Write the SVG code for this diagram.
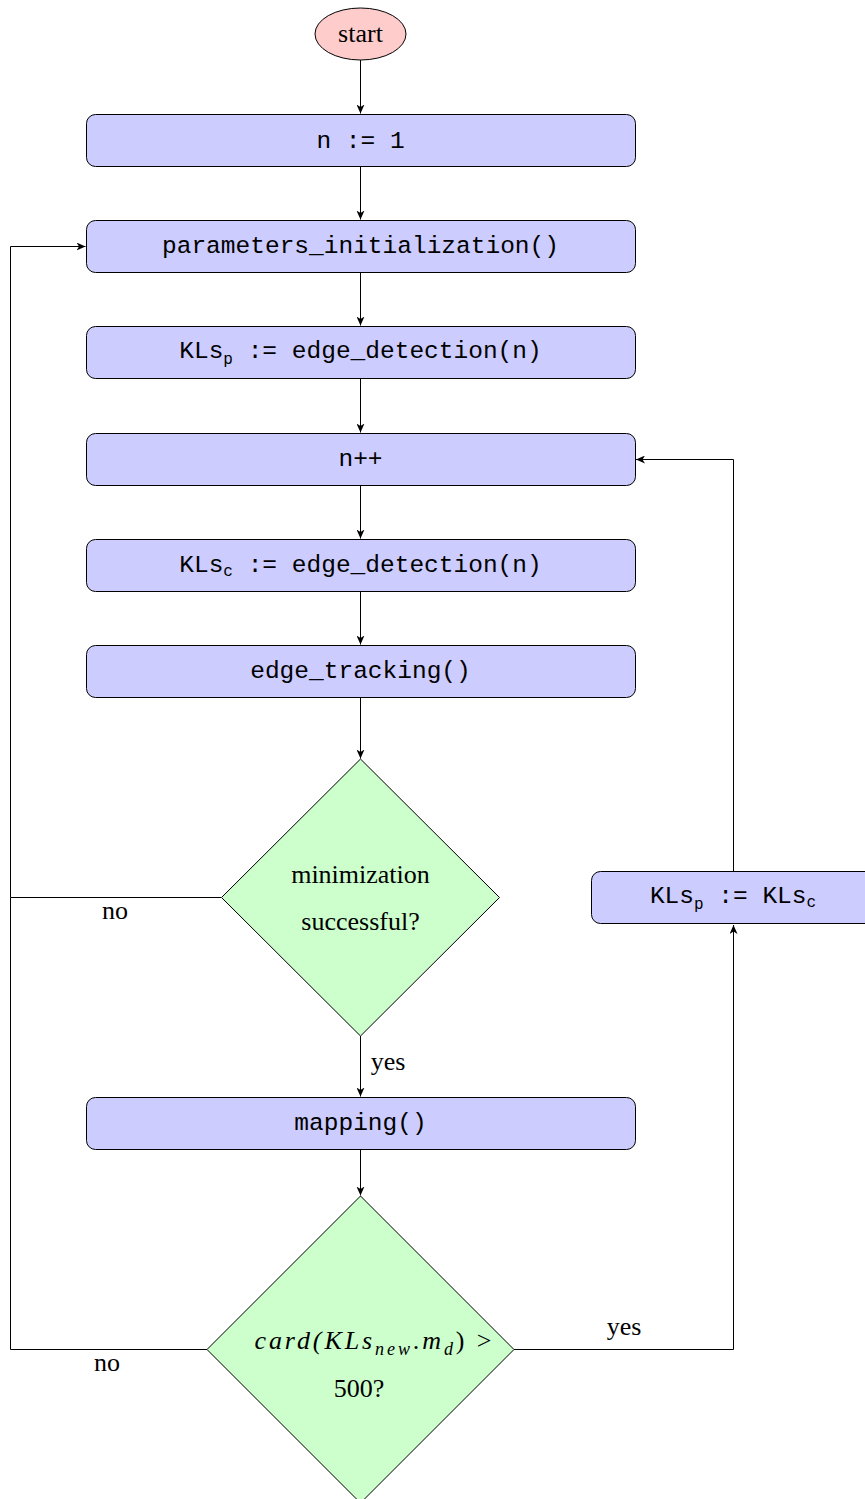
<svg xmlns="http://www.w3.org/2000/svg" width="865" height="1499" viewBox="0 0 865 1499">
<defs>
<marker id="ah" markerWidth="10" markerHeight="8" refX="9" refY="4" orient="auto" markerUnits="userSpaceOnUse">
<path d="M0,0 L9,4 L0,8 L2.5,4 Z" fill="#000"/>
</marker>
<style>
.box{fill:#ccccff;stroke:#000;stroke-width:1}
.dia{fill:#ccffcc;stroke:#000;stroke-width:1}
.ell{fill:#ffcccc;stroke:#000;stroke-width:1}
.mono{font-family:"Liberation Mono","DejaVu Sans Mono",monospace;font-size:24.5px;fill:#000;text-anchor:middle}
.serif{font-family:"Liberation Serif","DejaVu Serif",serif;font-size:26px;fill:#000;text-anchor:middle}
.lbl{font-family:"Liberation Serif","DejaVu Serif",serif;font-size:26px;fill:#000;text-anchor:middle}
.edge{fill:none;stroke:#000;stroke-width:1;marker-end:url(#ah)}
.line{fill:none;stroke:#000;stroke-width:1}
</style>
</defs>
<rect width="865" height="1499" fill="#fff"/>
<g id="connectors">
<line class="edge" x1="360.5" y1="60" x2="360.5" y2="113.5"/>
<line class="edge" x1="360.5" y1="166" x2="360.5" y2="219.5"/>
<line class="edge" x1="360.5" y1="272" x2="360.5" y2="325.5"/>
<line class="edge" x1="360.5" y1="379" x2="360.5" y2="432.5"/>
<line class="edge" x1="360.5" y1="485" x2="360.5" y2="538.5"/>
<line class="edge" x1="360.5" y1="591" x2="360.5" y2="644.5"/>
<line class="edge" x1="360.5" y1="697" x2="360.5" y2="758.5"/>
<line class="edge" x1="360.5" y1="1036" x2="360.5" y2="1096.5"/>
<line class="edge" x1="360.5" y1="1149" x2="360.5" y2="1195.5"/>
<polyline class="edge" points="221,897.5 10.5,897.5 10.5,246.5 85.5,246.5"/>
<polyline class="line" points="207,1349.5 10.5,1349.5 10.5,897.5"/>
<polyline class="edge" points="514,1349.5 733.5,1349.5 733.5,925"/>
<polyline class="edge" points="733.5,871 733.5,459.5 636,459.5"/>
<text class="lbl" x="115" y="919">no</text>
<text class="lbl" x="107" y="1371">no</text>
<text class="lbl" x="388" y="1070">yes</text>
<text class="lbl" x="624" y="1335">yes</text>
</g>
<g id="start">
<ellipse class="ell" cx="360.5" cy="34" rx="45.5" ry="26"/>
<text class="serif" x="360.5" y="42">start</text>
</g>
<g id="init_n">
<rect class="box" x="86.5" y="114.5" width="549" height="52" rx="9"/>
<text class="mono" x="360.5" y="148">n := 1</text>
</g>
<g id="params_init">
<rect class="box" x="86.5" y="220.5" width="549" height="52" rx="9"/>
<text class="mono" x="360.5" y="253">parameters_initialization()</text>
</g>
<g id="edge_detect_p">
<rect class="box" x="86.5" y="326.5" width="549" height="52" rx="9"/>
<text class="mono" x="360.5" y="358">KLs<tspan font-size="16" dy="6">p</tspan><tspan dy="-6"> := edge_detection(n)</tspan></text>
</g>
<g id="n_inc">
<rect class="box" x="86.5" y="433.5" width="549" height="52" rx="9"/>
<text class="mono" x="360.5" y="466">n++</text>
</g>
<g id="edge_detect_c">
<rect class="box" x="86.5" y="539.5" width="549" height="52" rx="9"/>
<text class="mono" x="360.5" y="572">KLs<tspan font-size="16" dy="4">c</tspan><tspan dy="-4"> := edge_detection(n)</tspan></text>
</g>
<g id="edge_tracking">
<rect class="box" x="86.5" y="645.5" width="549" height="52" rx="9"/>
<text class="mono" x="360.5" y="678">edge_tracking()</text>
</g>
<g id="minimization">
<polygon class="dia" points="360.5,759 499.5,897.5 360.5,1036 221.5,897.5"/>
<text class="serif" x="360.5" y="883">minimization</text>
<text class="serif" x="360.5" y="930">successful?</text>
</g>
<g id="mapping">
<rect class="box" x="86.5" y="1097.5" width="549" height="52" rx="9"/>
<text class="mono" x="360.5" y="1130">mapping()</text>
</g>
<g id="card_check">
<polygon class="dia" points="360.5,1196 514,1349.5 360.5,1503 207,1349.5"/>
<text class="serif" x="373" y="1349" font-style="italic" textLength="237" lengthAdjust="spacing">card(KLs<tspan font-size="18" dy="6">new</tspan><tspan dy="-6" font-style="normal">.</tspan>m<tspan font-size="18" dy="6">d</tspan><tspan dy="-6" font-style="normal">) &gt;</tspan></text>
<text class="serif" x="359" y="1397">500?</text>
</g>
<g id="kls_update">
<rect class="box" x="591.5" y="871.5" width="284" height="52" rx="9"/>
<text class="mono" x="733" y="903">KLs<tspan font-size="16" dy="6">p</tspan><tspan dy="-6"> := KLs</tspan><tspan font-size="16" dy="4">c</tspan></text>
</g>
</svg>
